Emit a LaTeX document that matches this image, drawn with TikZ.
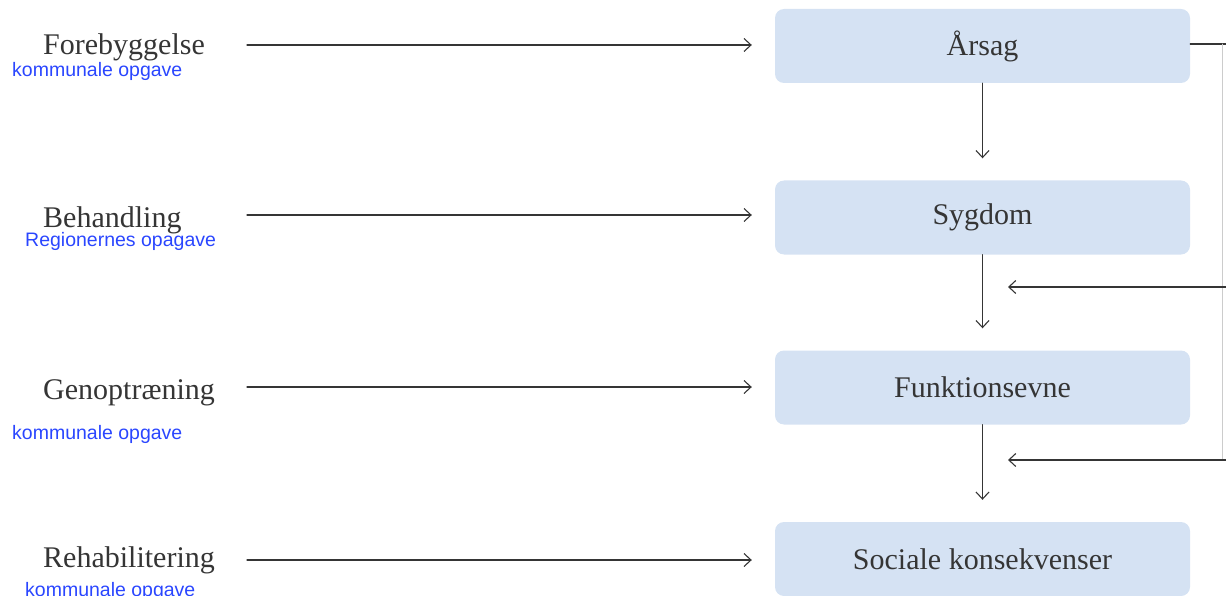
\documentclass[tikz,border=0pt]{standalone}
\usepackage{fontspec}
\setmainfont{Liberation Serif}
\newfontfamily\notefont{Liberation Sans}
\usetikzlibrary{positioning,arrows.meta}
\definecolor{boxblue}{HTML}{D5E2F3}
\definecolor{inkgray}{HTML}{353535}
\definecolor{noteblue}{HTML}{2A46FF}
\begin{document}
\begin{tikzpicture}[x=1pt, y=-1pt, line join=round, line cap=round, >={Straight Barb[length=7pt,width=13pt]},
		box/.style={fill=boxblue, rounded corners=9pt, minimum width=415pt, minimum height=74pt, text=inkgray, font=\fontsize{30}{32}\selectfont},
		task/.style={anchor=base west, inner sep=0pt, text=inkgray, font=\fontsize{30}{32}\selectfont},
		note/.style={anchor=base west, inner sep=0pt, text=noteblue, font=\notefont\fontsize{19.5}{21}\selectfont},
		arr/.style={->, line width=1.1pt, draw=inkgray}]
	\useasboundingbox (0,0) rectangle (1226,596);
	% boxes
	\node[box] (arsag) at (982.5,46) {Årsag};
	\node[box] (sygdom) at (982.5,217.5) {Sygdom};
	\node[box] (funktion) at (982.5,387.5) {Funktionsevne};
	\node[box] (sociale) at (982.5,559) {Sociale konsekvenser};
	% left side
	\node[task] (forebyg) at (43,55) {Forebyggelse};
	\node[task] (behandl) at (43,227) {Behandling};
	\node[task] (genopt) at (43,399) {Genoptræning};
	\node[task] (rehab) at (43,567) {Rehabilitering};
	\node[note] (n1) at (12,77) {kommunale opgave};
	\node[note] (n2) at (25,247) {Regionernes opagave};
	\node[note] (n3) at (12,439) {kommunale opgave};
	\node[note] (n4) at (25,596) {kommunale opgave};
	\coordinate (s1) at (247,45);
	\coordinate (s2) at (247,215);
	\coordinate (s3) at (247,387);
	\coordinate (s4) at (247,560);
	\draw[arr] (s1) -- ([xshift=-23pt]arsag.west |- s1);
	\draw[arr] (s2) -- ([xshift=-23pt]sygdom.west |- s2);
	\draw[arr] (s3) -- ([xshift=-23pt]funktion.west |- s3);
	\draw[arr] (s4) -- ([xshift=-23pt]sociale.west |- s4);
	% down the chain
	\draw[arr] (arsag.south) -- ([yshift=22pt]sygdom.north);
	\draw[arr] (sygdom.south) -- ([yshift=22pt]funktion.north);
	\draw[arr] (funktion.south) -- ([yshift=22pt]sociale.north);
	% right side
	\coordinate (r0) at (1226,44);
	\coordinate (r1) at (1226,287);
	\coordinate (r2) at (1226,460);
	\draw[line width=1.1pt, inkgray] (arsag.east |- r0) -- (r0);
	\draw[line width=0.8pt, black!20] (1222,44) -- (1222,460);
	\draw[arr] (r1) -- (1008,287);
	\draw[arr] (r2) -- (1008,460);
\end{tikzpicture}
\end{document}
